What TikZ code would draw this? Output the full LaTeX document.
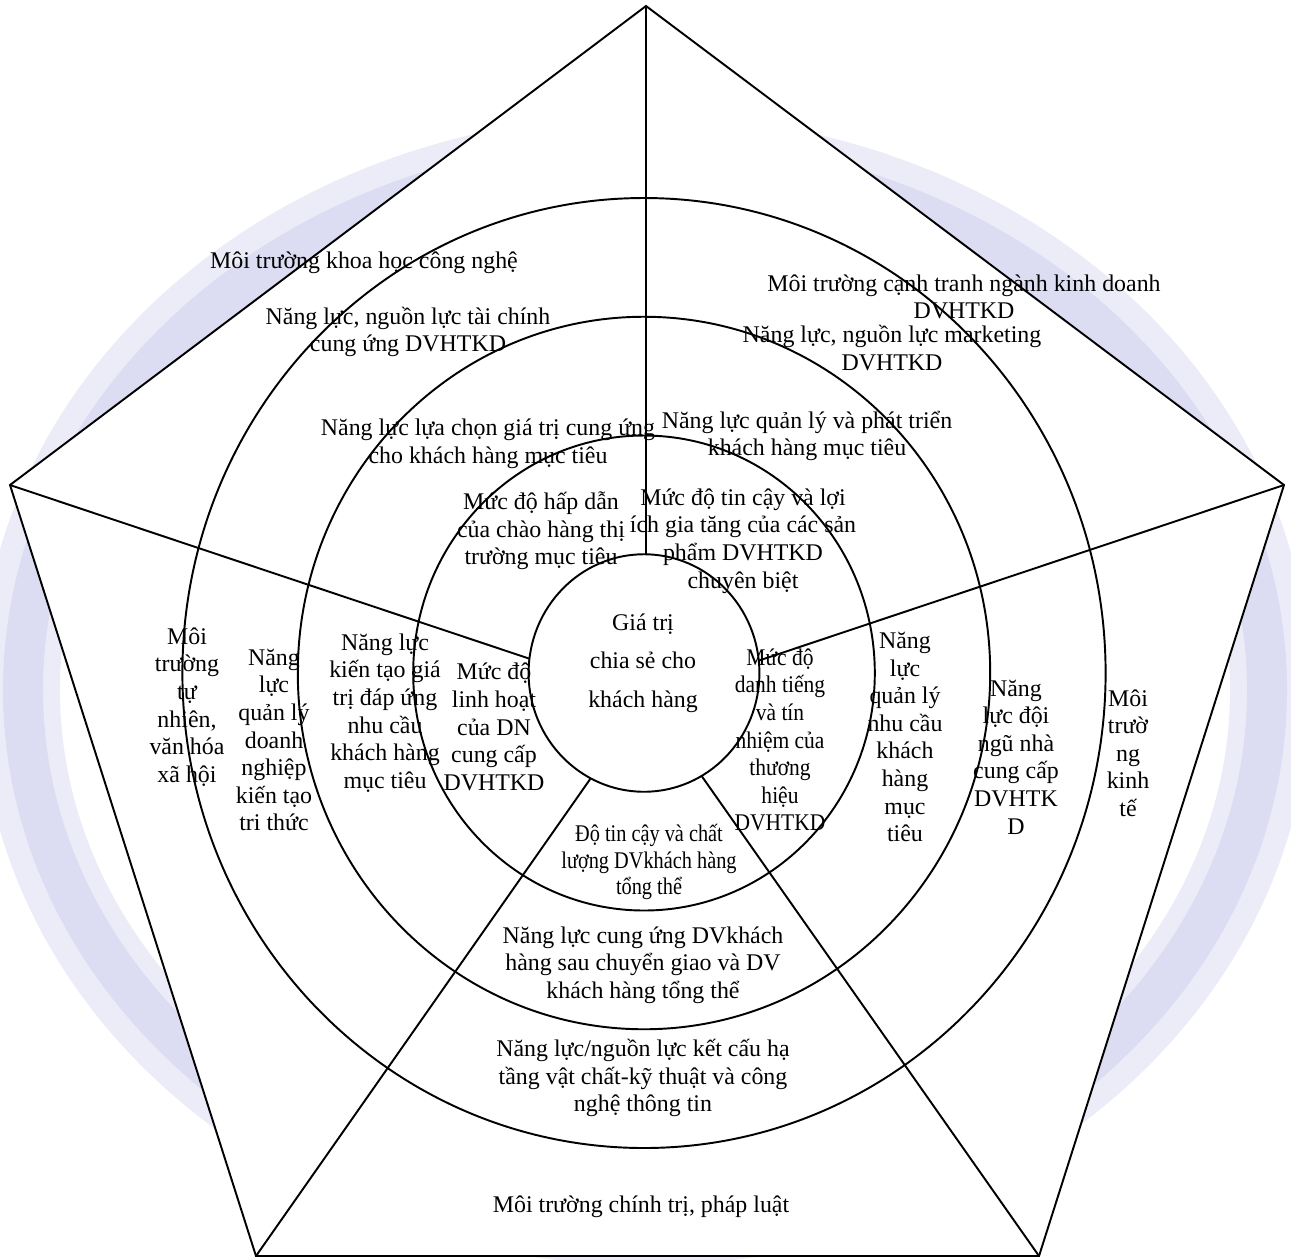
\documentclass[tikz,border=0pt]{standalone}
\usepackage{fontspec}
\setmainfont{Liberation Serif}
\newfontfamily\narrowfont[FakeStretch=0.9]{Liberation Serif}
\newfontfamily\narrowerfont[FakeStretch=0.85]{Liberation Serif}
\usepackage{xcolor}
\usepackage{tikz}
\definecolor{lavender}{RGB}{208,208,238}
\tikzset{
    ring/.style={draw=black, line width=1.1pt},
    spoke/.style={draw=black, line width=1.1pt},
    lbl/.style={align=center, inner sep=0pt, font=\fontsize{13.6}{15.7}\selectfont},
    narrowlbl/.style={lbl, font=\narrowfont\fontsize{13.6}{15.7}\selectfont},
    narrowerlbl/.style={lbl, font=\narrowerfont\fontsize{13.6}{15.1}\selectfont},
    watermark/.style={draw=lavender, line width=0.8cm}
}

\begin{document}
\begin{tikzpicture}[x=0.02cm, y=-0.02cm]
    \useasboundingbox (0,0) rectangle (1291,1259);
    % faint ring behind the pentagon
    \draw[watermark, draw=lavender!40, line width=1.6cm] (645,690) ellipse [x radius=625, y radius=535];
    \draw[watermark, draw=lavender!75] (645,690) ellipse [x radius=622, y radius=532];
    \coordinate (top) at (646,6);
    \coordinate (rgt) at (1284,485);
    \coordinate (brt) at (1039,1256);
    \coordinate (blf) at (256,1256);
    \coordinate (lft) at (10,485);
    \filldraw[fill=white, spoke] (top) -- (rgt) -- (brt) -- (blf) -- (lft) -- cycle;
    \coordinate (ctr) at (644,673);
    \foreach \k in {1,...,4}
        \draw[ring] (ctr) ellipse [x radius=115.4*\k, y radius=118.75*\k];
    % spokes stop at the inner ring
    \coordinate (etop) at (646,554);
    \coordinate (elft) at (529.2,658.6);
    \coordinate (ergt) at (758.8,660.6);
    \coordinate (eblf) at (590.7,778.3);
    \coordinate (ebrt) at (701.5,775.8);
    \draw[spoke] (top) -- (etop);
    \draw[spoke] (lft) -- (elft);
    \draw[spoke] (rgt) -- (ergt);
    \draw[spoke] (blf) -- (eblf);
    \draw[spoke] (brt) -- (ebrt);
    % outer band
    \node[lbl] (khcn) at (364,263) {Môi trường khoa học công nghệ};
    \node[lbl] (canhtranh) at (964,297) {Môi trường cạnh tranh ngành kinh doanh\\DVHTKD};
    \node[lbl] (tunhien) at (187,707) {Môi\\trường\\tự\\nhiên,\\văn hóa\\xã hội};
    \node[lbl] (kinhte) at (1128,753) {Môi\\trườ\\ng\\kinh\\tế};
    \node[lbl] (chinhtri) at (641,1207) {Môi trường chính trị, pháp luật};
    % ring 3
    \node[lbl] (taichinh) at (408,332) {Năng lực, nguồn lực tài chính\\cung ứng DVHTKD};
    \node[lbl] (marketing) at (892,348) {Năng lực, nguồn lực marketing\\DVHTKD};
    \node[lbl] (quanlydn) at (274,740) {Năng\\lực\\quản lý\\doanh\\nghiệp\\kiến tạo\\tri thức};
    \node[lbl] (doingu) at (1016,757) {Năng\\lực đội\\ngũ nhà\\cung cấp\\DVHTK\\D};
    \node[lbl] (ketcau) at (643,1078) {Năng lực/nguồn lực kết cấu hạ\\tầng vật chất-kỹ thuật và công\\nghệ thông tin};
    % ring 2
    \node[lbl] (luachon) at (488,444) {Năng lực lựa chọn giá trị cung ứng\\cho khách hàng mục tiêu};
    \node[lbl] (phattrien) at (807,436) {Năng lực quản lý và phát triển\\khách hàng mục tiêu};
    \node[lbl] (kientao) at (385,713) {Năng lực\\kiến tạo giá\\trị đáp ứng\\nhu cầu\\khách hàng\\mục tiêu};
    \node[lbl] (nhucau) at (905,737) {Năng\\lực\\quản lý\\nhu cầu\\khách\\hàng\\mục\\tiêu};
    \node[lbl] (cungung) at (643,965) {Năng lực cung ứng DVkhách\\hàng sau chuyển giao và DV\\khách hàng tổng thể};
    % ring 1
    \node[lbl] (hapdan) at (541,531) {Mức độ hấp dẫn\\của chào hàng thị\\trường mục tiêu};
    \node[lbl] (loiich) at (743,541) {Mức độ tin cậy và lợi\\ích gia tăng của các sản\\phẩm DVHTKD\\chuyên biệt};
    \node[lbl] (linhhoat) at (494,727) {Mức độ\\linh hoạt\\của DN\\cung cấp\\DVHTKD};
    \node[narrowlbl] (danhtieng) at (780,740) {Mức độ\\danh tiếng\\và tín\\nhiệm của\\thương\\hiệu\\DVHTKD};
    \node[narrowerlbl] (dotincay) at (649,862) {Độ tin cậy và chất\\lượng DVkhách hàng\\tổng thể};
    % centre
    \node[lbl, font=\fontsize{13.6}{21.8}\selectfont] (giatri) at (643,663) {Giá trị\\chia sẻ cho\\khách hàng};
\end{tikzpicture}
\end{document}
